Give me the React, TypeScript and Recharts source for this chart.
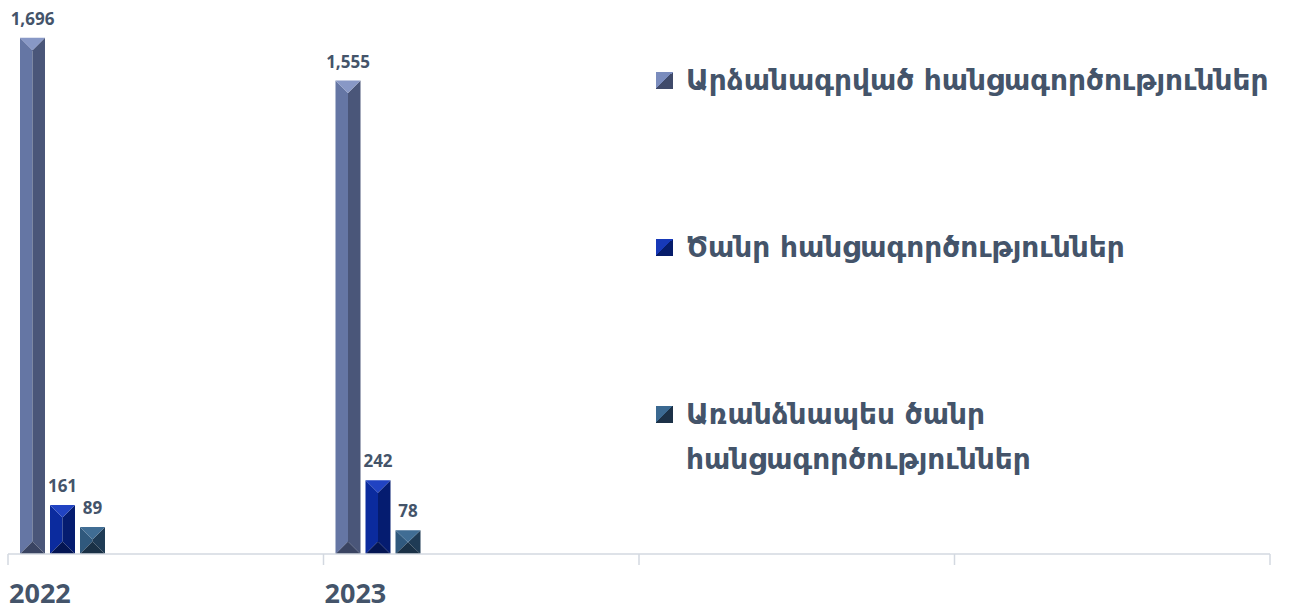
import { Bar, BarChart, LabelList, Legend, XAxis, YAxis } from "recharts"

const years = ["2022", "2023", "", ""]
const recorded = [1696, 1555, null, null]
const grave = [161, 242, null, null]
const especiallyGrave = [89, 78, null, null]
const seriesKeys = ["recorded", "grave", "especiallyGrave"]
const seriesNames = [
  "Արձանագրված հանցագործություններ",
  "Ծանր հանցագործություններ",
  "Առանձնապես ծանր հանցագործություններ",
]

const data = years.map((year, i) => ({
  year,
  recorded: recorded[i],
  grave: grave[i],
  especiallyGrave: especiallyGrave[i],
}))

const W = 1295
const H = 611
const M = { top: 6, right: 25, bottom: 17, left: 8 }
const BAND = (W - M.left - M.right) / years.length
// bars sit at the left side of each year slot, as in the original
const SHIFT = -103
const TEXT = "#44546a"

type Shades = { top: string; left: string; right: string; bottom: string; icon: [string, string] }

const shades: Record<string, Shades> = {
  recorded: { top: "#8898c6", left: "#6576a4", right: "#4a5679", bottom: "#3a4462", icon: ["#7a8cbd", "#3f4a6a"] },
  grave: { top: "#2143c2", left: "#0b2b9e", right: "#051c70", bottom: "#041553", icon: ["#1739b8", "#061c6a"] },
  especiallyGrave: { top: "#406d94", left: "#30597d", right: "#1f3b55", bottom: "#1a3146", icon: ["#3b6991", "#1c3147"] },
}

const bevel = (c: Shades) => (props: any) => {
  const { x, y, width: w, height: h } = props
  if (!h || h <= 0) return null
  const x0 = x + SHIFT
  const x1 = x0 + w
  const cx = x0 + w / 2
  const d = Math.min(w / 2, h / 2)
  const yt = y + d
  const yb = y + h - d
  const y1 = y + h
  return (
    <g>
      <polygon points={`${x0},${y} ${cx},${yt} ${cx},${yb} ${x0},${y1}`} fill={c.left} />
      <polygon points={`${x1},${y} ${cx},${yt} ${cx},${yb} ${x1},${y1}`} fill={c.right} />
      <polygon points={`${x0},${y} ${x1},${y} ${cx},${yt}`} fill={c.top} />
      <polygon points={`${x0},${y1} ${x1},${y1} ${cx},${yb}`} fill={c.bottom} />
    </g>
  )
}

const barLabel = (props: any) => {
  const { x, y, width, value } = props
  if (value == null) return null
  return (
    <text
      x={x + width / 2 + SHIFT}
      y={y - 13}
      textAnchor="middle"
      fill={TEXT}
      fontFamily="Open Sans"
      fontWeight={700}
      fontSize={17}
    >
      {value.toLocaleString("en-US")}
    </text>
  )
}

const YearTick = (props: any) => {
  const { x, y, payload, index } = props
  const start = x - BAND / 2
  return (
    <g>
      <line x1={start} y1={y} x2={start} y2={y + 11} stroke="#d3d8e0" strokeWidth={1.5} />
      {index === years.length - 1 && (
        <line x1={start + BAND} y1={y} x2={start + BAND} y2={y + 11} stroke="#d3d8e0" strokeWidth={1.5} />
      )}
      <text x={start + 1} y={y + 49} fill={TEXT} fontFamily="Open Sans" fontWeight={700} fontSize={27}>
        {payload.value}
      </text>
    </g>
  )
}

const LegendBox = (props: any) => {
  const items = [...(props.payload || [])].sort(
    (a: any, b: any) => seriesKeys.indexOf(a.dataKey) - seriesKeys.indexOf(b.dataKey)
  )
  return (
    <div style={{ fontFamily: "DejaVu Sans", color: TEXT }}>
      {items.map((item: any) => {
        const c = shades[item.dataKey]
        return (
          <div key={item.dataKey} style={{ display: "flex", alignItems: "flex-start", height: 45, marginBottom: 122 }}>
            <div
              style={{
                width: 17,
                height: 17,
                marginTop: 14,
                marginRight: 13,
                flex: "none",
                background: `linear-gradient(to bottom right, ${c.icon[0]} 50%, ${c.icon[1]} 50%)`,
              }}
            />
            <div style={{ width: 600, fontSize: 28, fontWeight: 700, lineHeight: "45px" }}>{item.value}</div>
          </div>
        )
      })}
    </div>
  )
}

export default function App() {
  return (
    <div style={{ position: "absolute", left: 0, top: 0, width: W, height: H, background: "#fff" }}>
      <BarChart width={W} height={H} data={data} margin={M} barSize={25} barGap={5}>
        <XAxis
          dataKey="year"
          height={40}
          interval={0}
          tickSize={0}
          tickMargin={0}
          tickLine={false}
          axisLine={{ stroke: "#d3d8e0", strokeWidth: 1.5 }}
          tick={<YearTick />}
        />
        <YAxis hide domain={[0, 1800]} />
        <Legend
          layout="horizontal"
          verticalAlign="middle"
          align="center"
          content={<LegendBox />}
          wrapperStyle={{ left: 656, top: 58, width: 639 }}
        />
        <Bar dataKey="recorded" name={seriesNames[0]} fill="#5d6d97" shape={bevel(shades.recorded)} isAnimationActive={false}>
          <LabelList dataKey="recorded" content={barLabel} />
        </Bar>
        <Bar dataKey="grave" name={seriesNames[1]} fill="#0a2a9a" shape={bevel(shades.grave)} isAnimationActive={false}>
          <LabelList dataKey="grave" content={barLabel} />
        </Bar>
        <Bar
          dataKey="especiallyGrave"
          name={seriesNames[2]}
          fill="#30597d"
          shape={bevel(shades.especiallyGrave)}
          isAnimationActive={false}
        >
          <LabelList dataKey="especiallyGrave" content={barLabel} />
        </Bar>
      </BarChart>
    </div>
  )
}
